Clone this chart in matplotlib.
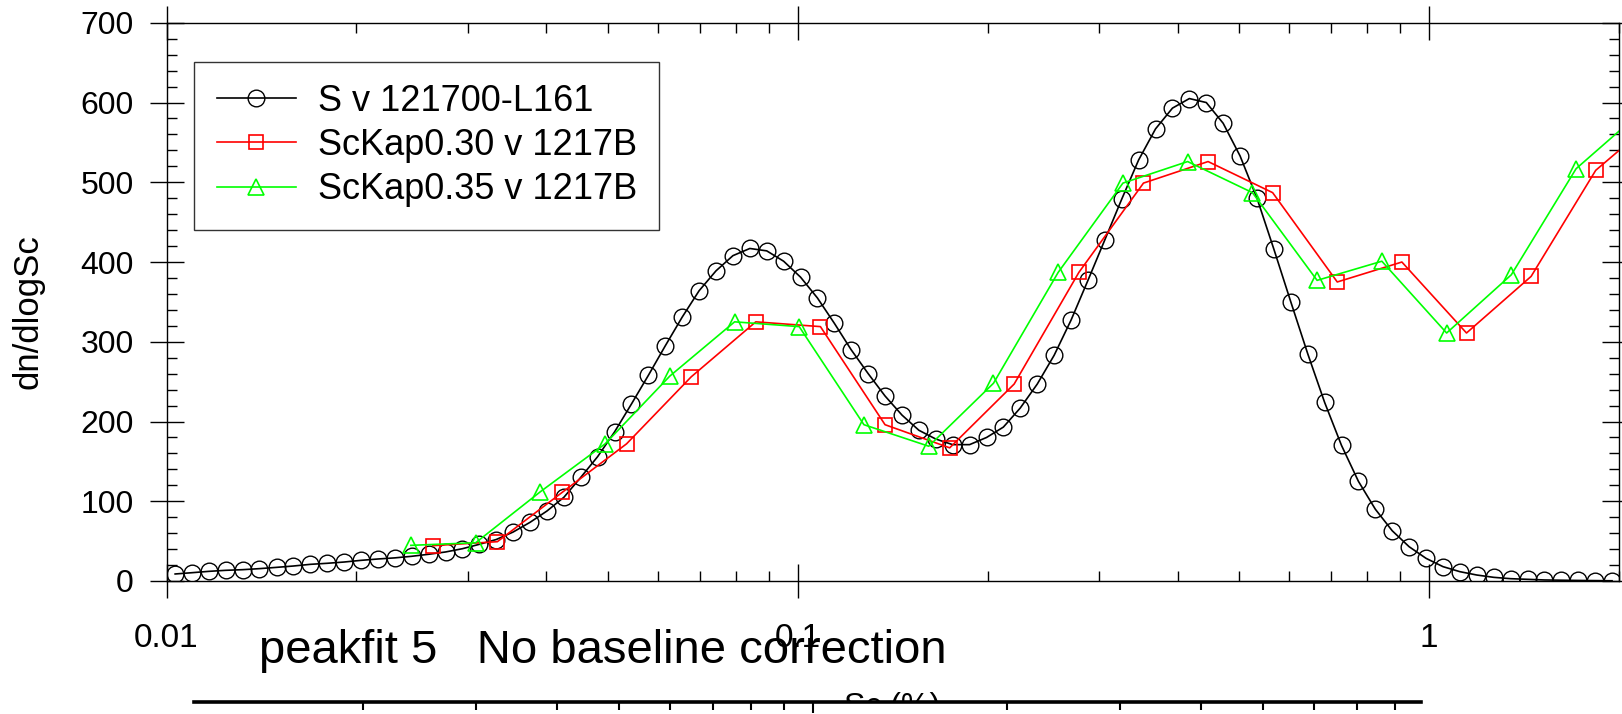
import numpy as np
import matplotlib
matplotlib.use('Agg')
import matplotlib.pyplot as plt
from matplotlib.ticker import MultipleLocator, LogLocator, NullFormatter

plt.rcParams['font.family'] = ['Liberation Sans', 'DejaVu Sans']

# S v 121700-L161 (black circles)
sc_s = [0.01032, 0.01097, 0.01167, 0.01241, 0.01320, 0.01404, 0.01494, 0.01589, 0.01690, 0.01797,
        0.01912, 0.02033, 0.02163, 0.02300, 0.02447, 0.02602, 0.02768, 0.02944, 0.03131, 0.03330,
        0.03542, 0.03768, 0.04008, 0.04263, 0.04534, 0.04822, 0.05129, 0.05455, 0.05803, 0.06172,
        0.06565, 0.06982, 0.07427, 0.07899, 0.08402, 0.08936, 0.09505, 0.1011, 0.1075, 0.1144,
        0.1216, 0.1294, 0.1376, 0.1464, 0.1557, 0.1656, 0.1761, 0.1873, 0.1993, 0.2119,
        0.2254, 0.2398, 0.2550, 0.2712, 0.2885, 0.3069, 0.3264, 0.3471, 0.3692, 0.3927,
        0.4177, 0.4443, 0.4725, 0.5026, 0.5346, 0.5686, 0.6048, 0.6433, 0.6842, 0.7277,
        0.7740, 0.8233, 0.8756, 0.9313, 0.9907, 1.0538, 1.1208, 1.1921, 1.2680, 1.3487,
        1.4345, 1.5257, 1.6228, 1.7261, 1.8359, 1.9527]
dn_s = [8.8, 10.4, 12.1, 13.4, 14.2, 15.5, 17.1, 18.8, 20.9, 22.2,
        23.8, 25.9, 27.6, 29.0, 31.0, 33.5, 36.4, 40.5, 46.0, 52.0,
        61.4, 73.6, 87.8, 105, 130, 156, 187, 222, 258, 295,
        331, 364, 389, 408, 417, 414, 401, 381, 355, 323,
        290, 260, 232, 208, 189, 178, 171, 171, 180, 193,
        217, 247, 283, 327, 377, 428, 479, 528, 567, 593,
        605, 600, 574, 533, 480, 416, 350, 285, 224, 170,
        125, 90, 63, 43, 28.4, 18, 11.7, 7.5, 4.6, 2.9,
        2.1, 1.3, 1.0, 0.7, 0.5, 0.3]

# ScKap0.30 v 1217B (red squares)
sc_k30 = [0.02642, 0.03344, 0.04234, 0.05358, 0.06783, 0.08586, 0.1087, 0.1376, 0.1742, 0.2204,
          0.2791, 0.3533, 0.4472, 0.5660, 0.7165, 0.9070, 1.1482, 1.4535, 1.8398, 2.329]
dn_k30 = [44.3, 49.3, 111, 172, 256, 325, 319, 196, 167, 247,
          387, 499, 526, 487, 375, 400, 311, 382, 515, 584]

# ScKap0.35 v 1217B (green triangles)
sc_k35 = [0.02439, 0.03090, 0.03913, 0.04955, 0.06275, 0.07947, 0.1006, 0.1274, 0.1614, 0.2044,
          0.2588, 0.3278, 0.4151, 0.5258, 0.6657, 0.8431, 1.0679, 1.3521, 1.7125, 2.1688]
dn_k35 = [44.7, 48, 112, 172, 257, 325, 319, 196, 169, 248,
          387, 499, 526, 487, 377, 401, 311, 384, 517, 588]

labels = ['S v 121700-L161', 'ScKap0.30 v 1217B', 'ScKap0.35 v 1217B']
x_ticks = [0.01, 0.1, 1]
x_ticklabels = ['0.01', '0.1', '1']
y_ticks = [0, 100, 200, 300, 400, 500, 600, 700]

W, H = 1622, 714
fig = plt.figure(figsize=(W / 100, H / 100), dpi=100)
ax = fig.add_axes([166.5 / W, 1 - 581 / H, (1618.6 - 166.5) / W, (581 - 22.8) / H])

ax.plot(sc_s, dn_s, color='black', lw=1.2, marker='o', ms=12, mfc='none', mec='black', mew=1.0, label=labels[0])
ax.plot(sc_k30, dn_k30, color='#ff0000', lw=1.2, marker='s', ms=10, mfc='none', mew=1.2, label=labels[1])
ax.plot(sc_k35, dn_k35, color='#00ff00', lw=1.2, marker='^', ms=11, mfc='none', mew=1.2, label=labels[2])

ax.set_xscale('log')
ax.set_xlim(0.01, 2.0)
ax.set_ylim(0, 700)
ax.set_xticks(x_ticks)
ax.set_xticklabels(x_ticklabels)
ax.xaxis.set_minor_locator(LogLocator(base=10, subs=np.arange(2, 10)))
ax.xaxis.set_minor_formatter(NullFormatter())
ax.set_yticks(y_ticks)
ax.yaxis.set_minor_locator(MultipleLocator(20))

for s in ax.spines.values():
    s.set_linewidth(1.0)
ax.tick_params(which='major', direction='inout', length=25, width=1, top=True, right=True)
ax.tick_params(which='minor', direction='in', length=7, width=1, top=True, right=True)
ax.tick_params(axis='x', which='major', labelsize=24, pad=18)
ax.tick_params(axis='y', which='major', labelsize=23, pad=11)

ax.set_xlabel('Sc (%)', fontsize=23)
ax.xaxis.set_label_coords(0.5, (581 - 692) / 558.2)
ax.set_ylabel('dn/dlogSc', fontsize=25)
ax.yaxis.set_label_coords(-0.084, 0.483)

leg = ax.legend(loc='upper left', bbox_to_anchor=(0.0191, 0.9303), borderaxespad=0,
                fontsize=26, frameon=True, fancybox=False, handlelength=2.2,
                handletextpad=0.6, borderpad=0.62, labelspacing=0.25)
leg.get_frame().set_edgecolor('black')
leg.get_frame().set_linewidth(1.0)

fig.text(259 / W, 1 - 663 / H, 'peakfit 5   No baseline correction', fontsize=34,
         ha='left', va='baseline')

# stray second axis line at the bottom
ax2 = fig.add_axes([194 / W, 0, (1421 - 194) / W, 12 / H])
ax2.set_zorder(3)
ax2.set_facecolor('white')
ax2.set_xscale('log')
ax2.set_xlim(0.01094, 0.879)
ax2.set_ylim(0, 1)
for side in ['bottom', 'left', 'right']:
    ax2.spines[side].set_visible(False)
ax2.spines['top'].set_linewidth(2.6)
ax2.xaxis.set_minor_locator(LogLocator(base=10, subs=np.arange(2, 10)))
ax2.xaxis.set_minor_formatter(NullFormatter())
ax2.tick_params(axis='x', which='both', bottom=False, top=True, labelbottom=False,
                labeltop=False, direction='in', width=1.5)
ax2.tick_params(axis='x', which='major', length=8)
ax2.tick_params(axis='x', which='minor', length=5.5)
ax2.set_yticks([])

fig.savefig('out.png', dpi=100)
